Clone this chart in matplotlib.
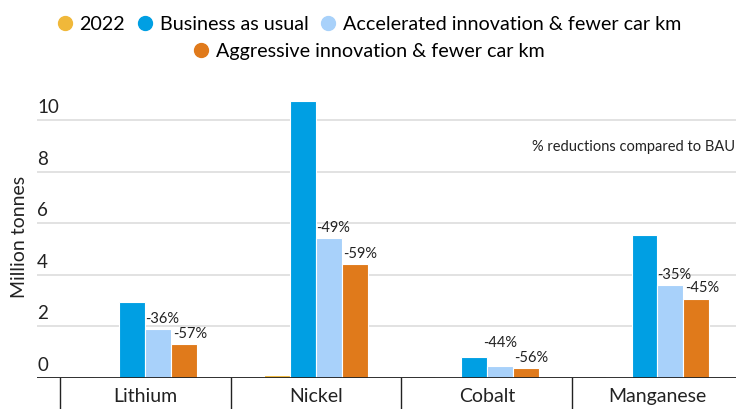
import matplotlib
matplotlib.use("Agg")
import matplotlib.pyplot as plt
from matplotlib.lines import Line2D
import matplotlib.transforms as mtransforms
import numpy as np

plt.rcParams['font.family'] = ['Lato', 'DejaVu Sans']

categories = ["Lithium", "Nickel", "Cobalt", "Manganese"]
series_names = ["2022", "Business as usual", "Accelerated innovation & fewer car km",
                "Aggressive innovation & fewer car km"]
v2022 = [0.03, 0.12, 0.02, 0.02]
bau = [2.95, 10.74, 0.82, 5.54]
accel = [1.90, 5.43, 0.48, 3.60]
aggr = [1.30, 4.42, 0.40, 3.08]
accel_labels = ["-36%", "-49%", "-44%", "-35%"]
aggr_labels = ["-57%", "-59%", "-56%", "-45%"]
yticks = [0, 2, 4, 6, 8, 10]

colors = ["#F0B83A", "#009FE3", "#A8D1FA", "#E07A1B"]

fig = plt.figure(figsize=(7.36, 4.10), dpi=100)
ax = fig.add_axes([0.0503, 0.0756, 0.9497, 0.692])

x = np.arange(len(categories))
w = 0.152
offsets = [-1.5, -0.5, 0.5, 1.5]
data = [v2022, bau, accel, aggr]
bars = []
for d, off, c in zip(data, offsets, colors):
    b = ax.bar(x + off * w, d, width=w, color=c, edgecolor="white", linewidth=0.8, zorder=3)
    bars.append(b)

lab_fs = 10.5
for i in range(len(categories)):
    r = bars[2][i]
    if categories[i] == "Cobalt":
        ax.annotate(accel_labels[i], (r.get_x() + r.get_width() / 2, r.get_height()),
                    xytext=(0, 12), textcoords="offset points", ha="center", va="bottom",
                    fontsize=lab_fs, color="#222222", zorder=5)
    else:
        ax.annotate(accel_labels[i], (r.get_x(), r.get_height()),
                    xytext=(0, 3), textcoords="offset points", ha="left", va="bottom",
                    fontsize=lab_fs, color="#222222", zorder=5)
    r = bars[3][i]
    ax.annotate(aggr_labels[i], (r.get_x(), r.get_height()),
                xytext=(1, 3), textcoords="offset points", ha="left", va="bottom",
                fontsize=lab_fs, color="#222222", zorder=5)

ax.set_xlim(-0.635, 3.46)
ax.set_ylim(0, 11)
for s in ax.spines.values():
    s.set_visible(False)
ax.set_xticks([])
ax.set_yticks([])
for t in yticks:
    ax.axhline(t, color="#DDDDDD", linewidth=1.2, zorder=1)
    ax.text(0.0, t + 0.2, str(t), transform=mtransforms.blended_transform_factory(ax.transAxes, ax.transData),
            ha="left", va="bottom", fontsize=13.5, color="#222222")
ax.axhline(0, color="#222222", linewidth=1.3, zorder=4)

trans = mtransforms.blended_transform_factory(ax.transData, ax.transAxes)
for sep in np.arange(len(categories) + 1) - 0.5:
    ax.plot([sep, sep], [0, -0.11], transform=trans, color="#222222", linewidth=1.0, clip_on=False)
for i, cat in enumerate(categories):
    ax.text(i, -0.06, cat, transform=trans, ha="center", va="center", fontsize=14, color="#222222")

fig.text(20 / 736, 1 - 237 / 410, "Million tonnes", rotation=90, ha="center", va="center",
         fontsize=14, color="#222222")
fig.text(1 - 1 / 736, 1 - 147 / 410, "% reductions compared to BAU", ha="right", va="center",
         fontsize=10.5, color="#222222")

handles = [Line2D([], [], marker="o", linestyle="none", markersize=10, markerfacecolor=c,
                  markeredgecolor=c) for c in colors]
leg1 = fig.legend(handles[:3], series_names[:3], loc="center", bbox_to_anchor=(0.5, 1 - 25 / 410),
                  ncol=3, frameon=False, fontsize=14.2, handletextpad=0.25, columnspacing=0.5,
                  handlelength=1.0, borderaxespad=0)
leg2 = fig.legend(handles[3:], series_names[3:], loc="center", bbox_to_anchor=(0.5, 1 - 52 / 410),
                  ncol=1, frameon=False, fontsize=14.2, handletextpad=0.25,
                  handlelength=1.0, borderaxespad=0)

fig.savefig("out.png", dpi=100)
